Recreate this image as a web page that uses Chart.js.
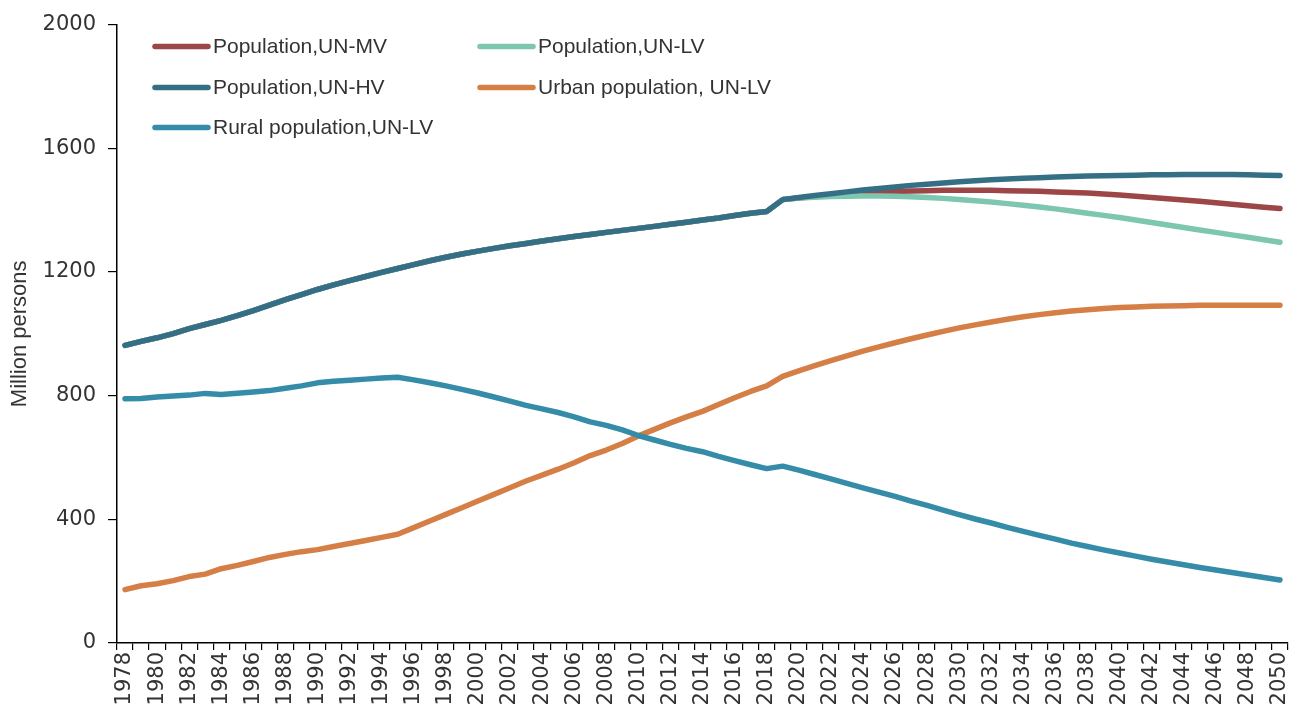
<!DOCTYPE html>
<html>
<head>
<meta charset="utf-8">
<script src="https://cdn.jsdelivr.net/npm/chart.js@4"></script>
<style>
  html, body { margin: 0; padding: 0; background: #fff; }
  #chart { display: block; }
</style>
</head>
<body>
<canvas id="chart" width="1290" height="709"></canvas>
<script>
// categories: 1978 .. 2050
const years = Array.from({ length: 73 }, (_, i) => String(1978 + i));

// historical total population 1978-2018 (million)
const totalHist = [962.6, 975.4, 987.1, 1000.7, 1016.5, 1030.1, 1043.6, 1058.5, 1075.1, 1093.0,
    1110.3, 1127.0, 1143.3, 1158.2, 1171.7, 1185.2, 1198.5, 1211.2, 1223.9, 1236.3,
    1247.6, 1257.9, 1267.4, 1276.3, 1284.5, 1292.3, 1299.9, 1307.6, 1314.5, 1321.3,
    1328.0, 1334.5, 1340.9, 1347.4, 1354.0, 1360.7, 1367.8, 1374.6, 1382.7, 1390.1, 1395.4];
const urbanHist = [172.5, 185.0, 191.4, 201.7, 214.8, 222.7, 240.2, 250.9, 263.7, 276.7,
    286.6, 295.4, 302.0, 312.0, 321.8, 331.7, 341.7, 351.7, 373.0, 394.5,
    416.1, 437.5, 459.1, 480.6, 502.1, 523.8, 542.8, 562.1, 582.9, 606.3,
    624.0, 645.1, 669.8, 690.8, 711.8, 731.1, 749.2, 771.2, 793.0, 813.5, 831.4];
const ruralHist = [790.1, 790.5, 795.7, 799.0, 801.7, 807.3, 803.4, 807.6, 811.4, 816.3,
    823.7, 831.6, 841.4, 846.2, 850.0, 853.4, 856.8, 859.5, 850.9, 841.8,
    831.5, 820.4, 808.4, 795.6, 782.4, 768.5, 757.1, 745.4, 731.6, 715.0,
    704.0, 689.4, 671.1, 656.6, 642.2, 629.6, 618.7, 603.5, 589.7, 576.6, 564.0];

// projections 2019-2050
const mvProj = [1434, 1439, 1444, 1448, 1452, 1455, 1458, 1460, 1462, 1463,
    1464, 1464, 1464, 1464, 1463, 1462, 1461, 1459, 1457, 1455,
    1452, 1449, 1445, 1441, 1437, 1433, 1429, 1424, 1419, 1414, 1409, 1405];
const lvProj = [1434, 1439, 1442, 1444, 1445, 1446, 1446, 1445, 1443, 1441,
    1438, 1434, 1430, 1426, 1421, 1416, 1410, 1404, 1397, 1390,
    1383, 1376, 1368, 1360, 1352, 1344, 1336, 1328, 1320, 1312, 1304, 1296];
const hvProj = [1434, 1441, 1447, 1453, 1459, 1465, 1470, 1475, 1480, 1484,
    1488, 1492, 1495, 1498, 1501, 1503, 1505, 1507, 1509, 1510,
    1511, 1512, 1513, 1514, 1514, 1515, 1515, 1515, 1515, 1514, 1513, 1512];
const urbanProj = [862, 880, 897, 913, 929, 944, 958, 971, 984, 996,
    1008, 1019, 1029, 1038, 1047, 1055, 1062, 1068, 1074, 1078,
    1082, 1085, 1087, 1089, 1090, 1091, 1092, 1092, 1092, 1092, 1092, 1092];
const ruralProj = [572, 559, 545, 531, 516, 502, 488, 474, 459, 445,
    430, 415, 401, 388, 374, 361, 348, 336, 323, 312,
    301, 291, 281, 271, 262, 253, 244, 236, 228, 220, 212, 204];

const yTicks = [0, 400, 800, 1200, 1600, 2000];

const FONT_NUM = "'DejaVu Sans', sans-serif";
const FONT_TXT = "'Liberation Sans', Arial, sans-serif";
const TEXT_COLOR = "#333333";

// legend drawn in two fixed columns inside the plot, like the original
const gridLegend = {
    id: "gridLegend",
    afterDraw(chart) {
        const ctx = chart.ctx;
        const area = chart.chartArea;
        const cols = [area.left + 38, area.left + 363];
        const rows = [area.top + 22, area.top + 63, area.top + 103];
        ctx.save();
        ctx.font = "21px " + FONT_TXT;
        ctx.textBaseline = "middle";
        ctx.fillStyle = TEXT_COLOR;
        chart.data.datasets.forEach((ds, i) => {
            const x = cols[i % 2], y = rows[Math.floor(i / 2)];
            ctx.strokeStyle = ds.borderColor;
            ctx.lineWidth = 5.5;
            ctx.lineCap = "round";
            ctx.beginPath();
            ctx.moveTo(x, y);
            ctx.lineTo(x + 53, y);
            ctx.stroke();
            ctx.fillText(ds.label, x + 58, y + 1);
        });
        ctx.restore();
    }
};

const line = (label, data, color, order) => ({
    label, data, order,
    borderColor: color, backgroundColor: color,
    borderWidth: 5.5, pointRadius: 0, tension: 0,
    borderCapStyle: "round", borderJoinStyle: "round", fill: false
});

new Chart(document.getElementById("chart"), {
    type: "line",
    data: {
        labels: years,
        datasets: [
            line("Population,UN-MV", totalHist.concat(mvProj), "#9C4648", 5),
            line("Population,UN-LV", totalHist.concat(lvProj), "#7DC6B0", 4),
            line("Population,UN-HV", totalHist.concat(hvProj), "#356F86", 3),
            line("Urban population, UN-LV", urbanHist.concat(urbanProj), "#D57F46", 2),
            line("Rural population,UN-LV", ruralHist.concat(ruralProj), "#358CA8", 1)
        ]
    },
    options: {
        responsive: false,
        animation: false,
        devicePixelRatio: 1,
        layout: { padding: { top: 24, right: 2, left: 0, bottom: 0 } },
        plugins: {
            legend: { display: false },
            tooltip: { enabled: false }
        },
        scales: {
            x: {
                offset: true,
                afterFit: scale => { scale.height = 66; scale.paddingRight = 0; },
                border: { color: "#000", width: 1.5 },
                grid: { offset: true, drawOnChartArea: false, drawTicks: true, tickLength: 7, color: "#000", lineWidth: 1.2 },
                ticks: {
                    autoSkip: false, maxRotation: 90, minRotation: 90, padding: 2,
                    color: TEXT_COLOR, font: { family: FONT_NUM, size: 21 },
                    callback: (v, i) => i % 2 === 0 ? years[i] : ""
                }
            },
            y: {
                min: 0, max: 2000,
                afterFit: scale => { scale.width = 117; },
                afterBuildTicks: scale => { scale.ticks = yTicks.map(v => ({ value: v })); },
                border: { color: "#000", width: 1.5 },
                grid: { drawOnChartArea: false, drawTicks: true, tickLength: 9, color: "#000", lineWidth: 1.2 },
                ticks: {
                    padding: 12, color: TEXT_COLOR, font: { family: FONT_NUM, size: 21 },
                    callback: v => String(v)
                },
                title: {
                    display: true, text: "Million persons", color: TEXT_COLOR,
                    font: { family: FONT_TXT, size: 22 }, padding: { top: 7, bottom: 0 }
                }
            }
        }
    },
    plugins: [gridLegend]
});
</script>
</body>
</html>
